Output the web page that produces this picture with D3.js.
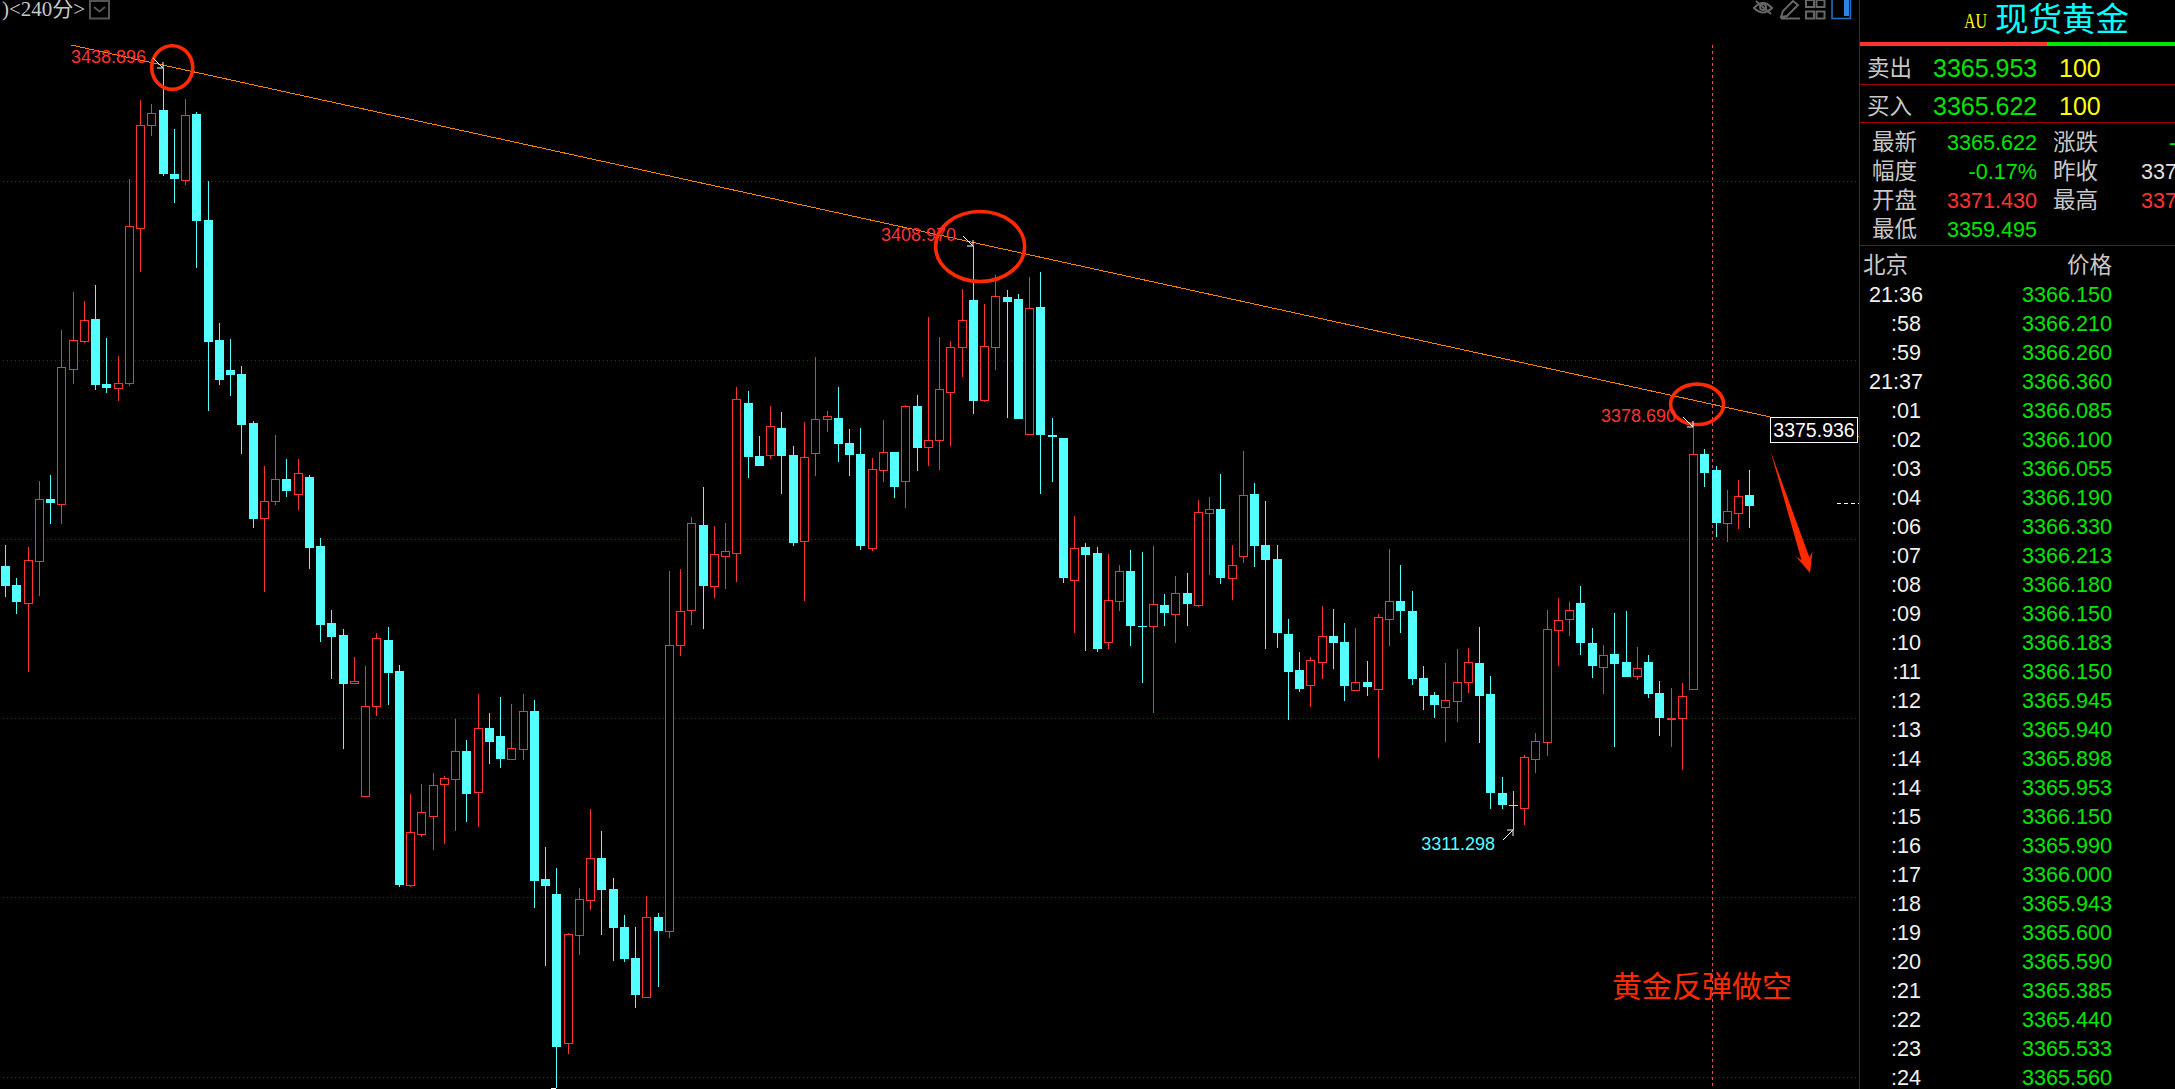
<!DOCTYPE html>
<html>
<head>
<meta charset="utf-8">
<style>
  html, body { margin: 0; padding: 0; background: #000; overflow: hidden; }
  svg { display: block; }
  text { font-family: "Liberation Sans", Arial, sans-serif; }
  .cjk { font-family: "Noto Sans CJK SC", sans-serif; }
</style>
</head>
<body>
<svg id="chart" width="2175" height="1089"></svg>
<script src="https://cdn.jsdelivr.net/npm/d3@7"></script>
<script>
// 240 minute spot gold candles, left to right
const opens = [
  3355.46,3352.28,3349.27,3356.30,3366.68,3365.84,3388.44,3393.12,3396.81,3385.93,
  3385.26,3386.10,3412.05,3429.29,3431.80,3421.09,3420.08,3431.13,3413.39,3393.29,
  3388.27,3387.61,3379.40,3363.50,3366.34,3370.03,3367.52,3370.36,3358.81,3345.93,
  3343.91,3335.88,3316.96,3332.03,3343.07,3337.88,3302.05,3310.59,3313.61,3318.97,
  3319.80,3324.49,3317.63,3328.33,3326.99,3323.15,3324.83,3331.19,3303.07,3300.55,
  3275.61,3293.69,3299.55,3306.58,3301.39,3295.03,3289.84,3283.31,3296.70,3294.36,
  3342.24,3348.10,3362.33,3352.11,3357.14,3357.64,3382.75,3373.88,3374.05,3378.56,
  3374.05,3359.65,3374.38,3380.07,3380.24,3376.05,3374.21,3358.47,3371.53,3374.55,
  3369.69,3382.25,3375.39,3376.56,3384.59,3392.13,3399.99,3383.25,3392.13,3400.50,
  3400.16,3377.56,3398.82,3377.39,3376.89,3353.12,3358.64,3357.64,3342.74,3349.60,
  3354.63,3345.42,3345.42,3348.93,3347.43,3350.94,3348.93,3364.34,3365.01,3353.45,
  3357.14,3367.52,3358.98,3356.63,3344.08,3338.05,3335.54,3339.39,3343.74,3342.74,
  3334.70,3336.04,3334.87,3346.60,3349.60,3347.93,3336.71,3333.87,3331.86,3332.86,
  3336.04,3339.22,3334.03,3317.46,3315.45,3314.95,3323.15,3325.99,3344.75,3346.60,
  3349.27,3342.57,3338.55,3340.73,3339.39,3337.05,3339.39,3334.20,3329.85,3330.02,
  3334.87,3374.21,3371.53,3362.66,3364.34,3367.35,
];
const highs = [
  3358.98,3353.45,3358.64,3369.69,3370.69,3394.97,3401.33,3399.83,3402.50,3393.63,
  3390.62,3420.25,3433.48,3432.81,3438.90,3428.62,3433.64,3431.47,3419.92,3396.14,
  3393.46,3388.94,3379.74,3372.20,3377.43,3373.38,3373.38,3370.69,3360.15,3348.10,
  3344.92,3340.23,3338.73,3344.25,3345.26,3338.89,3317.30,3318.97,3320.81,3320.31,
  3329.85,3326.33,3334.03,3330.85,3333.53,3332.36,3334.03,3333.03,3308.42,3304.90,
  3294.02,3301.56,3314.78,3311.10,3303.23,3297.03,3295.03,3300.22,3297.37,3354.63,
  3354.96,3363.67,3368.69,3362.16,3362.66,3385.43,3384.76,3377.23,3382.25,3381.24,
  3375.55,3379.57,3390.45,3381.41,3385.43,3378.40,3378.56,3373.54,3379.90,3374.55,
  3382.42,3384.09,3397.15,3393.80,3393.13,3401.84,3408.97,3399.33,3404.18,3401.67,
  3401.00,3403.84,3404.68,3380.24,3376.89,3363.83,3359.31,3358.64,3357.47,3355.63,
  3358.14,3357.81,3358.81,3350.78,3353.79,3354.29,3366.51,3367.01,3370.86,3358.98,
  3374.71,3369.36,3366.34,3358.98,3346.60,3341.06,3340.23,3348.77,3348.27,3345.93,
  3345.09,3339.56,3347.43,3358.31,3355.63,3351.28,3338.73,3334.37,3339.22,3341.57,
  3341.73,3345.26,3337.05,3320.14,3317.80,3323.82,3327.50,3348.10,3350.10,3349.44,
  3352.11,3345.09,3342.24,3347.60,3347.93,3341.90,3340.56,3336.21,3335.04,3335.88,
  3378.69,3375.05,3372.20,3368.19,3369.86,3371.53,
];
const lows = [
  3350.27,3347.43,3337.72,3350.44,3362.49,3362.49,3385.93,3392.79,3384.92,3384.42,
  3383.08,3385.60,3404.68,3427.45,3420.75,3416.23,3419.25,3405.35,3381.41,3385.76,
  3383.92,3374.21,3361.83,3351.11,3365.67,3367.01,3364.84,3354.96,3342.74,3336.54,
  3324.83,3335.88,3316.96,3330.35,3332.19,3301.72,3301.72,3310.09,3307.92,3308.92,
  3311.10,3312.60,3311.77,3322.31,3321.64,3323.15,3322.98,3298.21,3288.50,3268.07,
  3273.77,3290.34,3297.87,3293.69,3289.34,3289.17,3281.47,3283.31,3284.98,3293.19,
  3340.39,3345.59,3344.92,3350.10,3351.61,3352.78,3370.19,3372.20,3373.38,3367.52,
  3358.81,3349.60,3370.53,3377.90,3372.87,3370.53,3358.14,3357.97,3369.53,3366.85,
  3365.17,3371.36,3372.20,3371.53,3375.55,3387.10,3380.91,3382.92,3388.27,3380.24,
  3380.07,3377.56,3367.52,3369.53,3352.62,3344.25,3341.23,3341.06,3341.57,3347.93,
  3342.07,3335.88,3330.85,3345.42,3342.57,3345.42,3348.60,3353.96,3352.45,3349.77,
  3355.97,3355.30,3341.57,3341.73,3329.68,3334.37,3331.86,3336.54,3338.22,3332.86,
  3334.70,3333.70,3323.32,3342.07,3344.25,3335.54,3331.35,3330.02,3325.99,3329.35,
  3334.20,3325.82,3314.78,3314.78,3311.30,3312.11,3320.81,3323.65,3338.73,3343.74,
  3340.56,3336.71,3334.03,3325.16,3336.88,3336.38,3333.36,3326.99,3325.16,3321.31,
  3334.87,3368.69,3360.32,3359.48,3361.66,3361.83,
];
const closes = [
  3352.11,3349.44,3356.47,3366.68,3366.01,3388.77,3393.29,3396.64,3385.76,3385.26,
  3386.10,3412.38,3429.29,3431.30,3421.09,3420.25,3430.97,3413.22,3392.96,3386.60,
  3387.44,3379.07,3363.33,3366.34,3370.03,3368.02,3371.03,3358.47,3345.59,3343.57,
  3335.71,3336.21,3332.03,3343.41,3337.55,3302.05,3310.93,3314.28,3318.80,3319.97,
  3324.49,3317.30,3328.33,3325.99,3323.15,3325.00,3331.19,3302.73,3301.89,3274.94,
  3293.85,3299.72,3306.58,3301.22,3294.86,3289.67,3283.64,3296.70,3294.36,3342.24,
  3347.93,3362.66,3352.11,3357.47,3357.97,3383.42,3373.71,3372.20,3378.90,3373.88,
  3359.31,3373.71,3380.07,3380.58,3375.89,3374.05,3358.81,3371.70,3374.55,3368.69,
  3382.25,3375.22,3376.56,3385.09,3392.13,3396.64,3383.08,3392.29,3400.66,3399.66,
  3380.07,3398.65,3377.39,3377.06,3353.45,3358.47,3357.30,3341.57,3349.77,3354.63,
  3345.42,3345.26,3349.10,3347.60,3350.94,3349.10,3364.50,3365.01,3353.45,3355.63,
  3367.35,3358.81,3356.47,3344.25,3337.72,3334.87,3339.72,3343.74,3342.57,3335.37,
  3336.04,3335.20,3346.93,3349.60,3347.93,3336.54,3333.70,3332.19,3333.03,3336.04,
  3339.39,3333.70,3317.46,3315.45,3315.28,3323.49,3326.16,3344.92,3346.42,3348.10,
  3342.57,3338.73,3340.56,3339.05,3336.88,3338.38,3334.03,3330.02,3330.02,3333.70,
  3374.21,3371.03,3362.66,3364.67,3367.18,3365.51,
];

const gridPrices = [3420, 3390, 3360, 3330, 3300, 3270];

// drawn annotations, index along the candles and price
const trendIndex = [5.89, 164.76];
const trendPrice = [3442.68, 3377.15];
const trendLabel = "3375.936";
const circleIndex = [14.86, 86.65, 150.36];
const circlePrice = [3438.92, 3408.95, 3382.53];
const arrowIndex = [156.85, 160.4];
const arrowPrice = [3374.88, 3354.29];
const currentPrice = 3366.0;
const crossIndex = 151.7;

// high and low flags on the candles
const flagIndex = [14, 86, 150, 134];
const flagLabels = ["3438.896", "3408.970", "3378.690", "3311.298"];

// quote panel
const quoteNames = ["卖出", "买入"];
const quotePrices = ["3365.953", "3365.622"];
const quoteSizes = ["100", "100"];
const statNames = ["最新", "幅度", "开盘", "最低"];
const statValues = ["3365.622", "-0.17%", "3371.430", "3359.495"];
const statColours = ["#00e600", "#00e600", "#ff3232", "#00e600"];
const statNames2 = ["涨跌", "昨收", "最高"];
const statValues2 = ["-5.739", "3371.361", "3377.210"];
const statColours2 = ["#00e600", "#e0e0e0", "#ff3232"];
const tickTimes = ["21:36", ":58", ":59", "21:37", ":01", ":02", ":03", ":04", ":06", ":07",
  ":08", ":09", ":10", ":11", ":12", ":13", ":14", ":14", ":15", ":16",
  ":17", ":18", ":19", ":20", ":21", ":22", ":23", ":24"];
const tickPrices = ["3366.150", "3366.210", "3366.260", "3366.360", "3366.085", "3366.100", "3366.055",
  "3366.190", "3366.330", "3366.213", "3366.180", "3366.150", "3366.183", "3366.150",
  "3365.945", "3365.940", "3365.898", "3365.953", "3366.150", "3365.990", "3366.000",
  "3365.943", "3365.600", "3365.590", "3365.385", "3365.440", "3365.533", "3365.560"];

const UP = "#ff3232";
const DOWN = "#54ffff";
const PANEL_LINE = "#a00000";
const MARKER = "#ff2a00";

const svg = d3.select("#chart");

const x = d3.scaleLinear().domain([0, 155]).range([5, 1749.3]);
const y = d3.scaleLinear().domain([3420, 3270]).range([180.5, 1076.5]);

const px = (i) => Math.round(x(i));
const py = (p) => Math.round(y(p));

// grid
svg.append("g")
  .selectAll("line")
  .data(gridPrices)
  .join("line")
  .attr("x1", 3)
  .attr("x2", 1858)
  .attr("y1", (d) => py(d) + 0.5)
  .attr("y2", (d) => py(d) + 0.5)
  .attr("stroke", "#8a0000")
  .attr("stroke-dasharray", "1 3");

// note text sits under the cursor line
svg.append("text")
  .attr("class", "cjk")
  .attr("x", 1612)
  .attr("y", 997)
  .attr("font-size", 30)
  .attr("fill", MARKER)
  .text("黄金反弹做空");

svg.append("line")
  .attr("x1", px(crossIndex) + 0.5)
  .attr("x2", px(crossIndex) + 0.5)
  .attr("y1", 45)
  .attr("y2", 1089)
  .attr("stroke", "#e05050")
  .attr("stroke-dasharray", "3 3");

// candles
const candles = svg.append("g")
  .attr("shape-rendering", "crispEdges")
  .selectAll("g")
  .data(d3.range(opens.length))
  .join("g");

candles.append("line")
  .attr("x1", (i) => px(i) + 0.5)
  .attr("x2", (i) => px(i) + 0.5)
  .attr("y1", (i) => py(highs[i]))
  .attr("y2", (i) => py(lows[i]))
  .attr("stroke", (i) => (closes[i] >= opens[i] ? UP : DOWN));

candles.filter((i) => closes[i] >= opens[i])
  .append("rect")
  .attr("x", (i) => px(i) - 3.5)
  .attr("width", 8)
  .attr("y", (i) => py(closes[i]) + 0.5)
  .attr("height", (i) => py(opens[i]) - py(closes[i]))
  .attr("fill", "#000")
  .attr("stroke", UP);

candles.filter((i) => closes[i] < opens[i])
  .append("rect")
  .attr("x", (i) => px(i) - 4)
  .attr("width", 9)
  .attr("y", (i) => py(opens[i]))
  .attr("height", (i) => Math.max(1, py(closes[i]) - py(opens[i])))
  .attr("fill", DOWN);

// small tick under the lowest wick
svg.append("rect")
  .attr("x", px(49) - 5)
  .attr("y", py(lows[49]))
  .attr("width", 5)
  .attr("height", 1)
  .attr("fill", "#fff");

// current price stub
svg.append("line")
  .attr("x1", 1837)
  .attr("x2", 1859)
  .attr("y1", py(currentPrice) + 0.5)
  .attr("y2", py(currentPrice) + 0.5)
  .attr("stroke", "#fff")
  .attr("stroke-dasharray", "4 3");

// trend line
svg.append("line")
  .attr("x1", x(trendIndex[0]))
  .attr("y1", y(trendPrice[0]))
  .attr("x2", x(trendIndex[1]))
  .attr("y2", y(trendPrice[1]))
  .attr("stroke", "#ff8000")
  .attr("shape-rendering", "crispEdges");

svg.append("rect")
  .attr("x", 1770.5)
  .attr("y", 417.5)
  .attr("width", 87)
  .attr("height", 25)
  .attr("fill", "#000")
  .attr("stroke", "#fff");

svg.append("text")
  .attr("x", 1814)
  .attr("y", 437)
  .attr("text-anchor", "middle")
  .attr("font-size", 19.5)
  .attr("fill", "#fff")
  .text(trendLabel);

// hand drawn rings
const ringRx = [20.5, 44.5, 26.5];
const ringRy = [21.8, 35, 20.2];
svg.append("g")
  .selectAll("ellipse")
  .data(circleIndex)
  .join("ellipse")
  .attr("cx", (d) => x(d))
  .attr("cy", (d, i) => y(circlePrice[i]))
  .attr("rx", (d, i) => ringRx[i])
  .attr("ry", (d, i) => ringRy[i])
  .attr("fill", "none")
  .attr("stroke", MARKER)
  .attr("stroke-width", 3.6);

// big arrow, thin at the start and wide at the head
(function drawArrow() {
  const x0 = x(arrowIndex[0]), y0 = y(arrowPrice[0]);
  const x1 = x(arrowIndex[1]), y1 = y(arrowPrice[1]);
  const len = Math.hypot(x1 - x0, y1 - y0);
  const ux = (x1 - x0) / len, uy = (y1 - y0) / len;
  const nx = -uy, ny = ux;
  const at = (along, side) => [x0 + ux * along + nx * side, y0 + uy * along + ny * side];
  const points = [at(0, 0), at(len - 15, -4.2), at(len - 20, -9), at(len, 0), at(len - 20, 8.5), at(len - 15, 4.2)];
  svg.append("path")
    .attr("d", d3.line()(points) + "Z")
    .attr("fill", MARKER);
})();

// flags on the extreme candles
flagIndex.forEach(function (idx, n) {
  const isLow = flagLabels[n] === "3311.298";
  const tipX = px(idx);
  const tipY = isLow ? py(lows[idx]) : py(highs[idx]);
  const dir = isLow ? 1 : -1;
  const colour = isLow ? DOWN : UP;

  svg.append("text")
    .attr("x", tipX - (isLow ? 18 : 17))
    .attr("y", tipY + (isLow ? 20 : -5))
    .attr("text-anchor", "end")
    .attr("font-size", 18)
    .attr("fill", colour)
    .text(flagLabels[n]);

  svg.append("path")
    .attr("d", "M" + (tipX - 10) + "," + (tipY + dir * 10) + "L" + tipX + "," + tipY +
      "M" + (tipX - 6) + "," + tipY + "L" + tipX + "," + tipY + "L" + tipX + "," + (tipY + dir * 6))
    .attr("fill", "none")
    .attr("stroke", "#fff");
});

// top left period
svg.append("text")
  .attr("x", 2)
  .attr("y", 16)
  .attr("font-size", 21)
  .attr("fill", "#c8c8c8")
  .style("font-family", '"Liberation Serif", "Noto Sans CJK SC", serif')
  .text(")<240分>");

svg.append("rect")
  .attr("x", 90)
  .attr("y", 1)
  .attr("width", 19)
  .attr("height", 17.5)
  .attr("fill", "none")
  .attr("stroke", "#555")
  .attr("stroke-width", 2);

svg.append("path")
  .attr("d", "M94,7L99.5,11.5L105,7")
  .attr("fill", "none")
  .attr("stroke", "#555")
  .attr("stroke-width", 2);

// toolbar icons, top right
const toolbar = svg.append("g").attr("fill", "none").attr("stroke", "#666").attr("stroke-width", 2);
toolbar.append("path").attr("d", "M1754,8Q1763,-2 1772,8Q1763,17 1754,8Z");
toolbar.append("circle").attr("cx", 1763).attr("cy", 7).attr("r", 3);
toolbar.append("path").attr("d", "M1756,1L1771,14");
toolbar.append("path").attr("d", "M1781,17L1783,11L1793,1L1798,5L1787,16Z M1781,18.5H1800");
toolbar.selectAll("rect")
  .data([[1806, 0], [1816.5, 0], [1806, 11.5], [1816.5, 11.5]])
  .join("rect")
  .attr("x", (d) => d[0])
  .attr("y", (d) => d[1])
  .attr("width", 8)
  .attr("height", 7);
svg.append("rect").attr("x", 1832).attr("y", -2).attr("width", 18.5).attr("height", 20.5)
  .attr("fill", "none").attr("stroke", "#1f6fc4").attr("stroke-width", 1.6);
svg.append("rect").attr("x", 1844).attr("y", 0).attr("width", 5).attr("height", 16).attr("fill", "#2a86e0");

// quote panel frame
svg.append("line")
  .attr("x1", 1859.5).attr("x2", 1859.5).attr("y1", 0).attr("y2", 1089)
  .attr("stroke", PANEL_LINE);
svg.append("g")
  .selectAll("line")
  .data([84, 122, 245])
  .join("line")
  .attr("x1", 1860).attr("x2", 2175)
  .attr("y1", (d) => d + 0.5).attr("y2", (d) => d + 0.5)
  .attr("stroke", PANEL_LINE);
svg.append("rect").attr("x", 1860).attr("y", 42).attr("width", 187).attr("height", 4).attr("fill", UP);
svg.append("rect").attr("x", 2047).attr("y", 42).attr("width", 128).attr("height", 4).attr("fill", "#00e600");

svg.append("text")
  .attr("x", 1964).attr("y", 28).attr("font-size", 21).attr("fill", "#ffff00")
  .attr("textLength", 23).attr("lengthAdjust", "spacingAndGlyphs")
  .style("font-family", '"Liberation Serif", serif')
  .text("AU");
svg.append("text")
  .attr("class", "cjk")
  .attr("x", 1995).attr("y", 31).attr("font-size", 33.5).attr("fill", "#00ffff")
  .text("现货黄金");

// one text column for the panel
function column(values, opts) {
  svg.append("g")
    .selectAll("text")
    .data(values)
    .join("text")
    .attr("class", opts.cjk ? "cjk" : null)
    .attr("x", (d) => (typeof opts.x === "function" ? opts.x(d) : opts.x))
    .attr("y", (d, i) => opts.y + i * opts.step)
    .attr("text-anchor", opts.anchor || "start")
    .attr("font-size", opts.size)
    .attr("fill", (d, i) => (typeof opts.fill === "function" ? opts.fill(d, i) : opts.fill))
    .text((d) => d);
}

const LABEL = "#c8c8c8";
const GREEN = "#00e600";

column(quoteNames, { x: 1867, y: 76, step: 38, size: 22.5, fill: LABEL, cjk: true });
column(quotePrices, { x: 1933, y: 77, step: 38, size: 25, fill: GREEN });
column(quoteSizes, { x: 2059, y: 77, step: 38, size: 25, fill: "#ffff00" });

column(statNames, { x: 1872, y: 150, step: 29, size: 22.5, fill: LABEL, cjk: true });
column(statValues, { x: 2037, y: 150, step: 29, size: 21.6, anchor: "end", fill: (d, i) => statColours[i] });
column(statNames2, { x: 2053, y: 150, step: 29, size: 22.5, fill: LABEL, cjk: true });
column(statValues2, { x: (d) => (d[0] === "-" ? 2169 : 2141), y: 150, step: 29, size: 21.6, fill: (d, i) => statColours2[i] });

column(["北京"], { x: 1863, y: 273, step: 0, size: 22.5, fill: LABEL, cjk: true });
column(["价格"], { x: 2067, y: 273, step: 0, size: 22.5, fill: LABEL, cjk: true });

column(tickTimes, {
  x: (d) => (d[0] === ":" ? 1921 : 1923),
  y: 302,
  step: 29,
  size: 21.6,
  anchor: "end",
  fill: "#f0f0f0",
});
column(tickPrices, { x: 2112, y: 302, step: 29, size: 21.6, anchor: "end", fill: GREEN });
</script>
</body>
</html>
